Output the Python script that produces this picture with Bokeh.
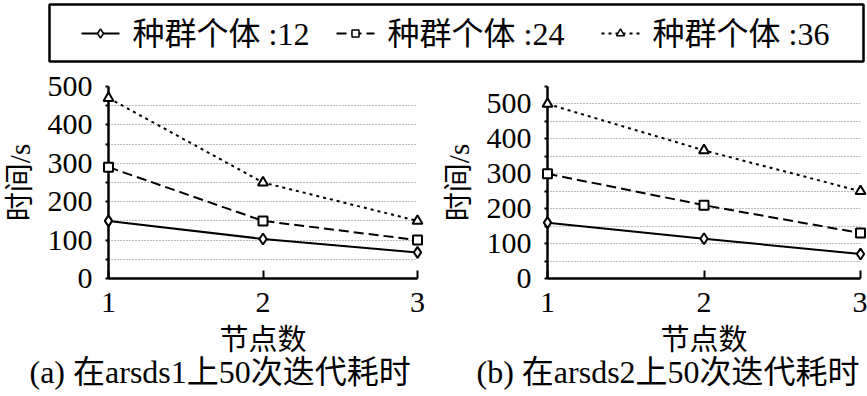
from bokeh.plotting import figure
from bokeh.models import (FixedTicker, Range1d, Title, ColumnDataSource)
from bokeh.core.properties import value
from bokeh.layouts import column, row
from bokeh.embed import file_html
from bokeh.resources import INLINE

# ---- data ----
nodes = [1, 2, 3]
series_labels = ["种群个体 :12", "种群个体 :24", "种群个体 :36"]
a_pop12 = [150, 103, 68]
a_pop24 = [290, 150, 100]
a_pop36 = [470, 250, 150]
b_pop12 = [160, 114, 70]
b_pop24 = [300, 210, 130]
b_pop36 = [500, 367, 250]
y_major = [0, 100, 200, 300, 400, 500]
x_label = "节点数"
y_label = "时间/s"
captions = ["(a) 在arsds1上50次迭代耗时", "(b) 在arsds2上50次迭代耗时"]

FONT = "'Liberation Serif', 'Noto Sans CJK SC', serif"

styles = [
    dict(line_dash="solid", marker="diamond", size=11),
    dict(line_dash="10 5", marker="square", size=9),
    dict(line_dash="3 4", marker="triangle", size=10),
]


def make_panel(ys, ymax, minor, caption, left, fw, right, cap_offset):
    p = figure(width=left + fw + right, height=330, x_range=Range1d(1, 3),
               y_range=Range1d(0, ymax), output_backend="svg", toolbar_location=None,
               min_border_left=left, min_border_right=right, min_border_top=20,
               min_border_bottom=118)
    p.outline_line_color = None
    p.background_fill_color = "white"
    p.border_fill_color = "white"
    for vals, st in zip(ys, styles):
        src = ColumnDataSource(dict(x=nodes, y=vals))
        p.line("x", "y", source=src, line_color="black", line_width=2,
               line_dash=st["line_dash"])
        p.scatter("x", "y", source=src, marker=st["marker"], size=st["size"],
                  line_color="black", line_width=2, fill_color="white",
                  level="overlay")
    # axes
    p.xaxis.ticker = FixedTicker(ticks=nodes)
    p.yaxis.ticker = FixedTicker(ticks=y_major, minor_ticks=minor)
    for ax in (p.xaxis[0], p.yaxis[0]):
        ax.axis_line_width = 2.5
        ax.axis_line_color = "black"
        ax.major_tick_line_color = "black"
        ax.major_tick_line_width = 2
        ax.minor_tick_line_color = "black"
        ax.minor_tick_line_width = 2
        ax.major_label_text_font = FONT
        ax.major_label_text_font_size = "30px"
        ax.major_label_text_color = "black"
        ax.axis_label_text_font = FONT
        ax.axis_label_text_font_size = "29px"
        ax.axis_label_text_font_style = "normal"
        ax.axis_label_text_color = "black"
    p.xaxis.major_tick_in = 8
    p.xaxis.major_tick_out = 0
    p.xaxis.minor_tick_in = 0
    p.xaxis.minor_tick_out = 0
    p.xaxis.major_label_standoff = 14
    p.xaxis.axis_label_standoff = 9
    p.yaxis.major_tick_in = 0
    p.yaxis.major_tick_out = 3
    p.yaxis.minor_tick_in = 0
    p.yaxis.minor_tick_out = 3
    p.yaxis.major_label_standoff = 13
    p.yaxis.axis_label_standoff = 9
    p.xaxis.axis_label = x_label
    p.yaxis.axis_label = y_label
    p.xgrid.grid_line_color = None
    p.ygrid.ticker = FixedTicker(ticks=y_major, minor_ticks=minor)
    p.ygrid.grid_line_color = "#777777"
    p.ygrid.grid_line_dash = "1 2"
    p.ygrid.grid_line_width = 1
    p.ygrid.minor_grid_line_color = "#777777"
    p.ygrid.minor_grid_line_dash = "1 2"
    p.ygrid.minor_grid_line_width = 1
    t = Title(text=caption, align="left", offset=cap_offset, text_font=FONT,
              text_font_size="32px", text_font_style="normal", text_color="black",
              standoff=-14)
    p.add_layout(t, "below")
    return p


p1 = make_panel([a_pop12, a_pop24, a_pop36], 500, [50, 150, 250, 350, 450],
                captions[0], 106, 311, 18, -79)
p2 = make_panel([b_pop12, b_pop24, b_pop36], 550, [50, 150, 250, 350, 450, 550],
                captions[1], 112, 313, 7, -71)

# legend strip (data units = pixels, drawn by hand)
pl = figure(width=867, height=66, x_range=Range1d(0, 867), y_range=Range1d(66, 0),
            output_backend="svg", toolbar_location=None,
            x_axis_location=None, y_axis_location=None,
            min_border=0)
pl.outline_line_color = None
pl.grid.visible = False
pl.quad(left=[49], right=[863], top=[4], bottom=[61], fill_color=None,
        line_color="black", line_width=2.5)
leg_glyph_x0 = [81, 336, 601]     # layout: start of each legend sample
leg_glyph_w = 38
leg_y = 33
for x0, lab, st in zip(leg_glyph_x0, series_labels, styles):
    pl.line(x=[x0, x0 + leg_glyph_w], y=[leg_y, leg_y], line_color="black",
            line_width=2, line_dash=st["line_dash"])
    pl.scatter(x=[x0 + leg_glyph_w / 2], y=[leg_y], marker=st["marker"],
               size=st["size"] - 2, line_color="black", line_width=1.5,
               fill_color="white")
    pl.text(x=[x0 + leg_glyph_w + 13], y=[leg_y], text=[lab], text_font=value(FONT),
            text_font_size="32px", text_baseline="middle", text_align="left",
            text_color="black")

layout = column(pl, row(p1, p2))
open("out.html", "w").write(file_html(layout, INLINE))
